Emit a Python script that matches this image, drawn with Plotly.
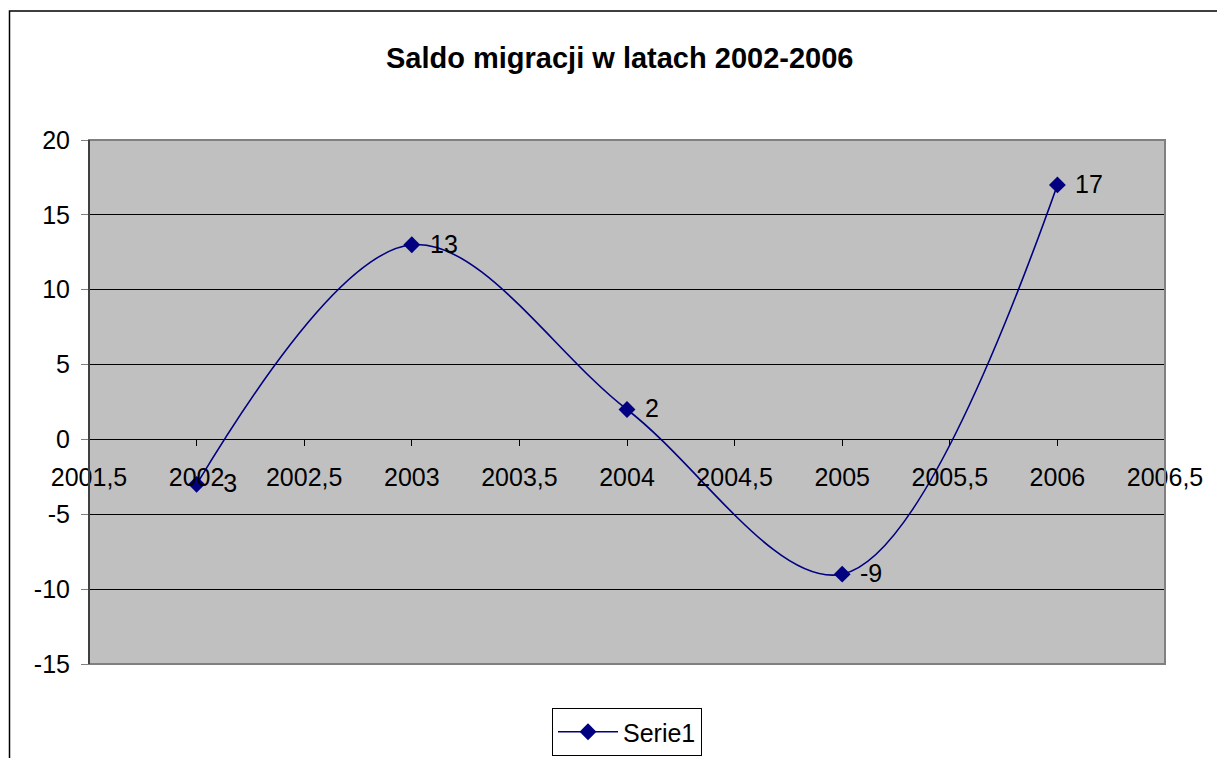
import plotly.graph_objects as go

# Data
years = [2002, 2003, 2004, 2005, 2006]
saldo = [-3, 13, 2, -9, 17]
series_name = "Serie1"
title_text = "Saldo migracji w latach 2002-2006"

x_tickvals = [2001.5, 2002, 2002.5, 2003, 2003.5, 2004, 2004.5, 2005, 2005.5, 2006, 2006.5]
x_ticktext = ["2001,5", "2002", "2002,5", "2003", "2003,5", "2004", "2004,5", "2005", "2005,5", "2006", "2006,5"]
y_tickvals = [-15, -10, -5, 0, 5, 10, 15, 20]
y_ticktext = ["-15", "-10", "-5", "0", "5", "10", "15", "20"]

FONT = "Arial, 'Liberation Sans', sans-serif"
NAVY = "#000080"

fig = go.Figure()
fig.add_trace(go.Scatter(
    x=years, y=saldo, name=series_name,
    mode="lines+markers",
    line=dict(color=NAVY, width=1.6, shape="spline", smoothing=1.0),
    marker=dict(symbol="diamond", size=13, color=NAVY),
    showlegend=True,
))

# data labels
for xv, yv in zip(years, saldo):
    fig.add_annotation(x=xv, y=yv, xref="x", yref="y", text=str(yv),
                       showarrow=False, xanchor="left", yanchor="middle",
                       xshift=16, yshift=1,
                       font=dict(family=FONT, size=25, color="black"))

W, H = 1217, 758
L, T = 89, 140
R = W - 1165
B = H - 664
pw, ph = W - L - R, H - T - B

def px_to_paper_x(px):
    return (px - L) / pw

def px_to_paper_y(py):
    return (H - B - py) / ph

shapes = [
    # outer chart border (left/top visible)
    dict(type="rect", xref="paper", yref="paper",
         x0=px_to_paper_x(9.5), x1=px_to_paper_x(1240),
         y0=px_to_paper_y(790), y1=px_to_paper_y(11),
         line=dict(color="black", width=1.5), layer="below"),
    # plot area border
    dict(type="rect", xref="paper", yref="paper", x0=0, x1=1, y0=0, y1=1,
         line=dict(color="#808080", width=2), layer="above"),
    # y axis line
    dict(type="line", xref="paper", yref="paper", x0=0, x1=0, y0=0, y1=1,
         line=dict(color="black", width=1), layer="above"),
]

fig.update_layout(
    width=W, height=H,
    margin=dict(l=L, r=R, t=T, b=B, autoexpand=False),
    paper_bgcolor="white",
    plot_bgcolor="#C0C0C0",
    font=dict(family=FONT, size=25, color="black"),
    shapes=shapes,
    annotations=list(fig.layout.annotations) + [
        dict(text="<b>" + title_text + "</b>", xref="paper", yref="paper",
             x=px_to_paper_x(619), y=px_to_paper_y(58), xanchor="center", yanchor="middle",
             showarrow=False, font=dict(family=FONT, size=29, color="black")),
    ],
    xaxis=dict(
        range=[2001.5, 2006.5], tickvals=x_tickvals, ticktext=x_ticktext,
        anchor="free", position=15 / 35, automargin=False,
        showline=True, linecolor="black", linewidth=1,
        ticks="outside", ticklen=6, tickcolor="black", tickwidth=1,
        showgrid=False, zeroline=False,
        ticklabelstandoff=10,
        tickfont=dict(family=FONT, size=25, color="black"),
    ),
    yaxis=dict(
        range=[-15, 20], tickvals=y_tickvals, ticktext=y_ticktext,
        showline=False, automargin=False,
        ticks="outside", ticklen=7, tickcolor="#808080", tickwidth=1,
        showgrid=True, gridcolor="black", gridwidth=1,
        zeroline=False,
        ticklabelstandoff=6,
        tickfont=dict(family=FONT, size=25, color="black"),
    ),
    legend=dict(
        xref="container", yref="container",
        x=627 / W, y=1 - 708 / H, xanchor="center", yanchor="top",
        bgcolor="white", bordercolor="black", borderwidth=1,
        font=dict(family=FONT, size=25, color="black"),
        itemwidth=60,
    ),
    showlegend=True,
)

fig.write_html("out.html",
               config={"displayModeBar": False},
               post_script="document.body.style.margin='0px';document.body.style.overflow='hidden';")
